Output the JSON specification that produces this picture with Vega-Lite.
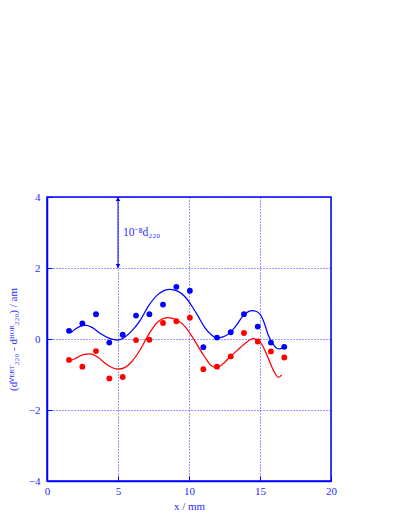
{
  "$schema": "https://vega.github.io/schema/vega-lite/v6.json",
  "width": 284,
  "height": 284,
  "autosize": "none",
  "padding": {"left": 47, "top": 197, "right": 78, "bottom": 48},
  "background": "white",
  "config": {
    "font": "Liberation Serif",
    "view": {"stroke": "#0000ff", "strokeWidth": 1.5},
    "axis": {
      "domainColor": "#0000ff",
      "domainWidth": 1.5,
      "tickColor": "#0000ff",
      "tickSize": -5,
      "tickWidth": 1,
      "gridColor": "#0000ff",
      "gridDash": [1, 2],
      "gridWidth": 1,
      "gridOpacity": 0.8,
      "labelColor": "#2a2aff",
      "labelFont": "Liberation Serif",
      "labelFontSize": 11,
      "titleColor": "#2a2aff",
      "titleFont": "Liberation Serif",
      "titleFontSize": 11,
      "titleFontWeight": "normal"
    }
  },
  "datasets": {
    "pts": [
      {"x": 1.55, "y": 0.23, "s": "vert"}, {"x": 2.49, "y": 0.44, "s": "vert"}, {"x": 3.45, "y": 0.70, "s": "vert"},
      {"x": 4.39, "y": -0.10, "s": "vert"}, {"x": 5.33, "y": 0.12, "s": "vert"}, {"x": 6.27, "y": 0.66, "s": "vert"},
      {"x": 7.21, "y": 0.70, "s": "vert"}, {"x": 8.17, "y": 0.97, "s": "vert"}, {"x": 9.11, "y": 1.47, "s": "vert"},
      {"x": 10.06, "y": 1.36, "s": "vert"}, {"x": 11.01, "y": -0.23, "s": "vert"}, {"x": 11.97, "y": 0.04, "s": "vert"},
      {"x": 12.94, "y": 0.19, "s": "vert"}, {"x": 13.87, "y": 0.70, "s": "vert"}, {"x": 14.84, "y": 0.35, "s": "vert"},
      {"x": 15.77, "y": -0.10, "s": "vert"}, {"x": 16.71, "y": -0.22, "s": "vert"},
      {"x": 1.55, "y": -0.59, "s": "hor"}, {"x": 2.49, "y": -0.78, "s": "hor"}, {"x": 3.45, "y": -0.34, "s": "hor"},
      {"x": 4.39, "y": -1.11, "s": "hor"}, {"x": 5.33, "y": -1.07, "s": "hor"}, {"x": 6.27, "y": -0.03, "s": "hor"},
      {"x": 7.21, "y": -0.02, "s": "hor"}, {"x": 8.17, "y": 0.45, "s": "hor"}, {"x": 9.11, "y": 0.50, "s": "hor"},
      {"x": 10.06, "y": 0.60, "s": "hor"}, {"x": 11.01, "y": -0.85, "s": "hor"}, {"x": 11.97, "y": -0.78, "s": "hor"},
      {"x": 12.94, "y": -0.49, "s": "hor"}, {"x": 13.87, "y": 0.17, "s": "hor"}, {"x": 14.84, "y": -0.07, "s": "hor"},
      {"x": 15.77, "y": -0.35, "s": "hor"}, {"x": 16.71, "y": -0.52, "s": "hor"}
    ],
    "curves": [
      {"x": 1.7, "y": 0.18, "s": "vert"}, {"x": 2.0, "y": 0.28, "s": "vert"}, {"x": 2.68, "y": 0.39, "s": "vert"},
      {"x": 3.2, "y": 0.32, "s": "vert"}, {"x": 3.73, "y": 0.16, "s": "vert"}, {"x": 4.4, "y": 0.02, "s": "vert"},
      {"x": 4.95, "y": -0.03, "s": "vert"}, {"x": 5.4, "y": 0.03, "s": "vert"}, {"x": 5.85, "y": 0.18, "s": "vert"},
      {"x": 6.55, "y": 0.52, "s": "vert"}, {"x": 7.13, "y": 0.92, "s": "vert"}, {"x": 7.8, "y": 1.25, "s": "vert"},
      {"x": 8.66, "y": 1.40, "s": "vert"}, {"x": 9.2, "y": 1.35, "s": "vert"}, {"x": 9.72, "y": 1.19, "s": "vert"},
      {"x": 10.2, "y": 0.93, "s": "vert"}, {"x": 10.66, "y": 0.63, "s": "vert"}, {"x": 11.1, "y": 0.33, "s": "vert"},
      {"x": 11.6, "y": 0.11, "s": "vert"}, {"x": 11.97, "y": 0.03, "s": "vert"}, {"x": 12.4, "y": 0.06, "s": "vert"},
      {"x": 12.89, "y": 0.18, "s": "vert"}, {"x": 13.4, "y": 0.42, "s": "vert"}, {"x": 13.82, "y": 0.66, "s": "vert"},
      {"x": 14.48, "y": 0.80, "s": "vert"}, {"x": 15.0, "y": 0.70, "s": "vert"}, {"x": 15.3, "y": 0.45, "s": "vert"},
      {"x": 15.58, "y": 0.11, "s": "vert"}, {"x": 15.9, "y": -0.13, "s": "vert"}, {"x": 16.18, "y": -0.26, "s": "vert"},
      {"x": 16.41, "y": -0.28, "s": "vert"}, {"x": 16.69, "y": -0.22, "s": "vert"},
      {"x": 1.6, "y": -0.62, "s": "hor"}, {"x": 2.0, "y": -0.55, "s": "hor"}, {"x": 2.5, "y": -0.45, "s": "hor"},
      {"x": 3.03, "y": -0.42, "s": "hor"}, {"x": 3.6, "y": -0.52, "s": "hor"}, {"x": 4.2, "y": -0.72, "s": "hor"},
      {"x": 5.02, "y": -0.85, "s": "hor"}, {"x": 5.5, "y": -0.80, "s": "hor"}, {"x": 5.96, "y": -0.64, "s": "hor"},
      {"x": 6.55, "y": -0.31, "s": "hor"}, {"x": 7.13, "y": 0.11, "s": "hor"}, {"x": 7.8, "y": 0.48, "s": "hor"},
      {"x": 8.54, "y": 0.60, "s": "hor"}, {"x": 9.2, "y": 0.52, "s": "hor"}, {"x": 9.72, "y": 0.35, "s": "hor"},
      {"x": 10.2, "y": 0.08, "s": "hor"}, {"x": 10.66, "y": -0.22, "s": "hor"}, {"x": 11.1, "y": -0.50, "s": "hor"},
      {"x": 11.6, "y": -0.76, "s": "hor"}, {"x": 11.95, "y": -0.80, "s": "hor"}, {"x": 12.4, "y": -0.70, "s": "hor"},
      {"x": 12.89, "y": -0.50, "s": "hor"}, {"x": 13.4, "y": -0.32, "s": "hor"}, {"x": 13.82, "y": -0.17, "s": "hor"},
      {"x": 14.53, "y": 0.01, "s": "hor"}, {"x": 15.0, "y": -0.08, "s": "hor"}, {"x": 15.3, "y": -0.28, "s": "hor"},
      {"x": 15.58, "y": -0.54, "s": "hor"}, {"x": 16.06, "y": -0.97, "s": "hor"}, {"x": 16.29, "y": -1.08, "s": "hor"},
      {"x": 16.53, "y": -1.01, "s": "hor"}
    ],
    "arrow": [{"x": 5, "y1": 2, "y2": 4}],
    "label": [{"x": 5.35, "y": 3.0, "t": "10⁻⁸d₂₂₀"}]
  },
  "layer": [
    {
      "data": {"name": "curves"},
      "mark": {"type": "line", "interpolate": "monotone", "strokeWidth": 1.25},
      "encoding": {
        "x": {"field": "x", "type": "quantitative",
              "scale": {"domain": [0, 20], "nice": false},
              "axis": {"values": [0, 5, 10, 15, 20], "title": "x / mm", "titlePadding": 4, "labelPadding": 9, "labelFlush": false}},
        "y": {"field": "y", "type": "quantitative",
              "scale": {"domain": [-4, 4], "nice": false},
              "axis": {"values": [-4, -2, 0, 2, 4], "title": "(dⱽᴱᴿᵀ₂₂₀ - dᴴᴼᴿ₂₂₀) / am", "labelPadding": 12, "labelFlush": false, "titlePadding": 10}},
        "color": {"field": "s", "type": "nominal", "scale": {"domain": ["vert", "hor"], "range": ["#0000ff", "#ff0000"]}, "legend": null},
        "detail": {"field": "s"}
      }
    },
    {
      "data": {"name": "pts"},
      "mark": {"type": "circle", "size": 34, "opacity": 1},
      "encoding": {
        "x": {"field": "x", "type": "quantitative"},
        "y": {"field": "y", "type": "quantitative"},
        "color": {"field": "s", "type": "nominal", "legend": null}
      }
    },
    {
      "data": {"name": "arrow"},
      "mark": {"type": "rule", "color": "#0000ff", "strokeWidth": 1},
      "encoding": {
        "x": {"field": "x", "type": "quantitative"},
        "y": {"field": "y1", "type": "quantitative"},
        "y2": {"field": "y2"}
      }
    },
    {
      "data": {"name": "arrow"},
      "mark": {"type": "point", "shape": "triangle-up", "filled": true, "color": "#0000ff", "size": 20, "yOffset": 2, "opacity": 1},
      "encoding": {
        "x": {"field": "x", "type": "quantitative"},
        "y": {"field": "y2", "type": "quantitative"}
      }
    },
    {
      "data": {"name": "arrow"},
      "mark": {"type": "point", "shape": "triangle-down", "filled": true, "color": "#0000ff", "size": 20, "yOffset": -2, "opacity": 1},
      "encoding": {
        "x": {"field": "x", "type": "quantitative"},
        "y": {"field": "y1", "type": "quantitative"}
      }
    },
    {
      "data": {"name": "label"},
      "mark": {"type": "text", "align": "left", "baseline": "middle", "font": "Liberation Serif", "fontSize": 11.5, "color": "#2a2aff"},
      "encoding": {
        "x": {"field": "x", "type": "quantitative"},
        "y": {"field": "y", "type": "quantitative"},
        "text": {"field": "t"}
      }
    }
  ]
}
